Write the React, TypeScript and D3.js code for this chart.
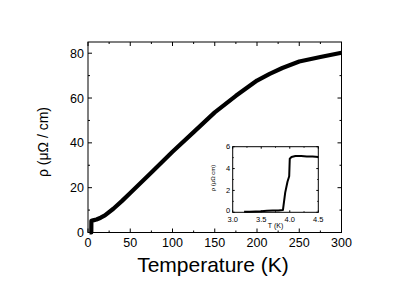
import React from "react";
import * as d3 from "d3";

// main curve: resistivity vs temperature
const mainT = [1.8, 2.5, 3.2, 3.9, 4.0, 6, 10, 15, 20, 30, 40, 50, 75, 100, 125, 150, 175, 200, 215, 230, 250, 275, 300];
const mainRho = [0, 0, 0, 0, 5.2, 5.4, 5.8, 6.6, 7.6, 10.6, 14.0, 17.6, 26.8, 36.0, 44.8, 53.6, 61.0, 67.8, 70.8, 73.4, 76.3, 78.3, 80.2];

// inset: superconducting transition
const insetT = [3.2, 3.3, 3.4, 3.5, 3.6, 3.7, 3.8, 3.88, 3.92, 3.96, 3.99, 4.0, 4.03, 4.1, 4.2, 4.3, 4.4, 4.5];
const insetRho = [0.04, 0.05, 0.07, 0.1, 0.15, 0.17, 0.17, 0.2, 1.8, 2.8, 3.3, 4.9, 5.05, 5.15, 5.15, 5.1, 5.1, 5.05];

const mainXTicks = [0, 50, 100, 150, 200, 250, 300];
const mainYTicks = [0, 20, 40, 60, 80];
const insetXTicks = [3.0, 3.5, 4.0, 4.5];
const insetYTicks = [0, 2, 4, 6];

const font = "Liberation Sans, Arial, sans-serif";

function Frame({ x, y, left, right, top, bottom, xMajor, xMinor, yMajor, yMinor, major, minor }) {
  const lines = [];
  xMajor.forEach((v, i) => {
    lines.push(<line key={"xb" + i} x1={x(v)} x2={x(v)} y1={bottom} y2={bottom - major} />);
    lines.push(<line key={"xt" + i} x1={x(v)} x2={x(v)} y1={top} y2={top + major} />);
  });
  xMinor.forEach((v, i) => {
    lines.push(<line key={"xbm" + i} x1={x(v)} x2={x(v)} y1={bottom} y2={bottom - minor} />);
    lines.push(<line key={"xtm" + i} x1={x(v)} x2={x(v)} y1={top} y2={top + minor} />);
  });
  yMajor.forEach((v, i) => {
    lines.push(<line key={"yl" + i} x1={left} x2={left + major} y1={y(v)} y2={y(v)} />);
    lines.push(<line key={"yr" + i} x1={right} x2={right - major} y1={y(v)} y2={y(v)} />);
  });
  yMinor.forEach((v, i) => {
    lines.push(<line key={"ylm" + i} x1={left} x2={left + minor} y1={y(v)} y2={y(v)} />);
    lines.push(<line key={"yrm" + i} x1={right} x2={right - minor} y1={y(v)} y2={y(v)} />);
  });
  return (
    <g stroke="#000" strokeWidth={1} fill="none">
      {lines}
      <rect x={left} y={top} width={right - left} height={bottom - top} />
    </g>
  );
}

export default function App() {
  const width = 415, height = 294;

  // main plot area
  const L = 88, R = 341.5, T = 42, B = 232.5;
  const x = d3.scaleLinear().domain([0, 300]).range([L, R]);
  const y = d3.scaleLinear().domain([0, 85]).range([B, T]);

  // inset area
  const iL = 232.7, iR = 318.3, iT = 146.7, iB = 212.3;
  const ix = d3.scaleLinear().domain([3.0, 4.5]).range([iL, iR]);
  const iy = d3.scaleLinear().domain([0, 6]).range([iB, iT]);

  const mainLine = d3.line<number>().x((d, i) => x(mainT[i])).y((d) => y(d));
  const insetLine = d3.line<number>().x((d, i) => ix(insetT[i])).y((d) => iy(d));

  return (
    <svg width={width} height={height} style={{ position: "absolute", left: 0, top: 0, background: "#fff" }}>
      <rect width={width} height={height} fill="#fff" />
      <path d={mainLine(mainRho) || ""} fill="none" stroke="#000" strokeWidth={4.2} strokeLinejoin="round" />
      <Frame x={x} y={y} left={L} right={R} top={T} bottom={B}
        xMajor={mainXTicks} xMinor={[25, 75, 125, 175, 225, 275]}
        yMajor={mainYTicks} yMinor={[10, 30, 50, 70]} major={4} minor={2} />
      <g fontFamily={font} fontSize={12.5} fill="#000">
        {mainXTicks.map((v) => (
          <text key={v} x={x(v)} y={B + 14} textAnchor="middle">{v}</text>
        ))}
        {mainYTicks.map((v) => (
          <text key={v} x={L - 4} y={y(v) + 4.5} textAnchor="end">{v}</text>
        ))}
      </g>
      <text x={213} y={271.5} textAnchor="middle" fontFamily={font} fontSize={21}>Temperature (K)</text>
      <text transform="translate(48,142) rotate(-90)" textAnchor="middle" fontFamily={font} fontSize={14}>ρ (μΩ / cm)</text>

      {/* inset */}
      <path d={insetLine(insetRho) || ""} fill="none" stroke="#000" strokeWidth={2} strokeLinejoin="round" />
      <Frame x={ix} y={iy} left={iL} right={iR} top={iT} bottom={iB}
        xMajor={insetXTicks} xMinor={[3.25, 3.75, 4.25]}
        yMajor={insetYTicks} yMinor={[1, 3, 5]} major={2} minor={1} />
      <g fontFamily={font} fontSize={7.5} fill="#000">
        {insetXTicks.map((v) => (
          <text key={v} x={ix(v)} y={iB + 9.5} textAnchor="middle">{v.toFixed(1)}</text>
        ))}
        {insetYTicks.map((v) => (
          <text key={v} x={iL - 2.5} y={iy(v) + (v === 0 ? 0.5 : 2.5)} textAnchor="end">{v}</text>
        ))}
      </g>
      <text x={(iL + iR) / 2} y={227.5} textAnchor="middle" fontFamily={font} fontSize={7}>T (K)</text>
      <text transform={`translate(214.5,178) rotate(-90)`} textAnchor="middle" fontFamily={font} fontSize={6}>ρ (μΩ cm)</text>
    </svg>
  );
}
